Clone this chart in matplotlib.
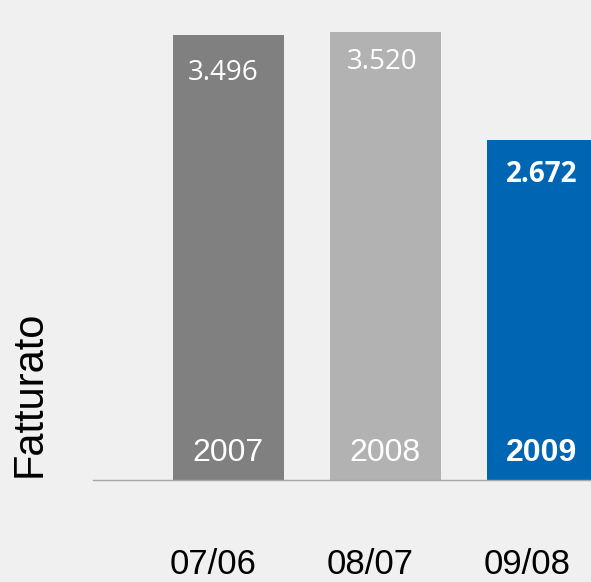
import matplotlib.pyplot as plt
from matplotlib.transforms import ScaledTranslation

periods = ['07/06', '08/07', '09/08']
years = ['2007', '2008', '2009']
fatturato = [3.496, 3.520, 2.672]
value_labels = ['3.496', '3.520', '2.672']

bar_colors = ['#808080', '#b2b2b2', '#0066b3']
bold = [False, False, True]
label_dy = [-38, -30, -35]
label_dx = [-5, -3, -1]

fig = plt.figure(figsize=(5.91, 5.82), dpi=100)
fig.patch.set_facecolor('#f0f0f0')
ax = fig.add_axes([93 / 591, 102 / 582, 498 / 591, 480 / 582])
ax.set_facecolor('#f0f0f0')

x = list(range(len(periods)))
ax.bar(x, fatturato, width=0.707, color=bar_colors, zorder=2)

ax.set_xlim(-0.863, 2.309)
ax.set_ylim(0, 3.77)

for s in ['top', 'right', 'left']:
    ax.spines[s].set_visible(False)
ax.spines['bottom'].set_color('#a6a6a6')
ax.spines['bottom'].set_linewidth(1.0)
ax.set_yticks([])

ax.set_xticks(x)
ax.set_xticklabels(periods, fontsize=25, family='Liberation Sans', color='black')
ax.tick_params(axis='x', length=0, pad=49)
for lbl in ax.get_xticklabels():
    lbl.set_transform(lbl.get_transform() + ScaledTranslation(-0.15, 0, fig.dpi_scale_trans))

for i, v in enumerate(fatturato):
    weight = 'bold' if bold[i] else 'normal'
    ax.annotate(value_labels[i], xy=(i, v), xytext=(label_dx[i], label_dy[i]),
                textcoords='offset pixels', ha='center', va='center', color='white',
                fontsize=20, family='Open Sans', fontweight=weight)
    ax.annotate(years[i], xy=(i, 0), xytext=(-1, 27), textcoords='offset pixels',
                ha='center', va='center', color='white', fontsize=23,
                family='Liberation Sans', fontweight=weight)

fig.text(30 / 591, 1 - 394 / 582, 'Fatturato', rotation=90, ha='center', va='center',
         fontsize=30, family='Liberation Sans', color='black')

fig.savefig('out.png', dpi=100, facecolor=fig.get_facecolor())
